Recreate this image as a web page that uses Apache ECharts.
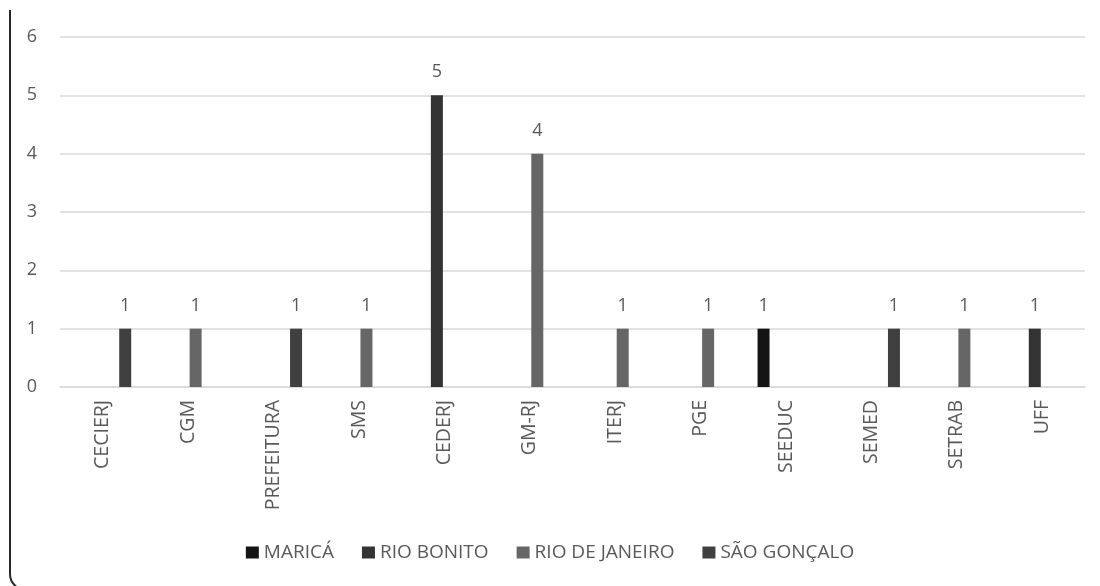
<!DOCTYPE html>
<html>
<head>
<meta charset="utf-8">
<script src="https://cdn.jsdelivr.net/npm/echarts@6/dist/echarts.min.js"></script>
<style>html,body{margin:0;padding:0;background:#fff}#c{width:1100px;height:586px}</style>
</head>
<body>
<div id="c"></div>
<script>
const categories = ['CECIERJ','CGM','PREFEITURA','SMS','CEDERJ','GM-RJ','ITERJ','PGE','SEEDUC','SEMED','SETRAB','UFF'];
const seriesNames = ['MARICÁ','RIO BONITO','RIO DE JANEIRO','SÃO GONÇALO'];
const marica      = [0,0,0,0,0,0,0,0,1,0,0,0];
const rioBonito   = [0,0,0,0,5,0,0,0,0,0,0,1];
const rioJaneiro  = [0,1,0,1,0,4,1,1,0,0,1,0];
const saoGoncalo  = [1,0,1,0,0,0,0,0,0,1,0,0];
const yTicks = [0,1,2,3,4,5,6];
const colors = ['#141414','#333333','#666666','#404040'];

const chart = echarts.init(document.getElementById('c'));
const font = '"Open Sans", "Noto Sans", sans-serif';
const mk = (name, data, color) => ({
  name, type: 'bar', data, barWidth: 12, barGap: '25%',
  itemStyle: { color },
  label: { show: true, position: 'top', distance: 14, color: '#595959', fontSize: 18, fontFamily: font,
    formatter: p => p.value === 0 ? '' : String(p.value) }
});
chart.setOption({
  animation: false,
  textStyle: { fontFamily: font },
  grid: { left: 60, right: 15, top: 37, bottom: 199 },
  legend: {
    bottom: 19, left: 'center', itemWidth: 13, itemHeight: 12, itemGap: 28,
    icon: 'rect',
    textStyle: { color: '#595959', fontSize: 19, fontFamily: font },
    data: seriesNames
  },
  xAxis: {
    type: 'category', data: categories,
    axisLine: { lineStyle: { color: '#d9d9d9', width: 1.5 } },
    axisTick: { show: false },
    axisLabel: { rotate: 90, color: '#595959', fontSize: 19.5, margin: 13, fontFamily: font }
  },
  yAxis: {
    type: 'value', min: yTicks[0], max: yTicks[yTicks.length-1], interval: 1,
    axisLine: { show: false }, axisTick: { show: false },
    axisLabel: { color: '#595959', fontSize: 18, margin: 23, fontFamily: font },
    splitLine: { lineStyle: { color: '#d9d9d9', width: 1.5 } }
  },
  series: [
    mk(seriesNames[0], marica, colors[0]),
    mk(seriesNames[1], rioBonito, colors[1]),
    mk(seriesNames[2], rioJaneiro, colors[2]),
    mk(seriesNames[3], saoGoncalo, colors[3])
  ],
  graphic: [
    { type: 'line', silent: true, shape: { x1: 10, y1: 10, x2: 10, y2: 574 },
      style: { stroke: '#262626', lineWidth: 2 } },
    { type: 'arc', silent: true, shape: { cx: 26, cy: 574, r: 16, startAngle: Math.PI / 2, endAngle: Math.PI, clockwise: true },
      style: { stroke: '#262626', lineWidth: 2, fill: null } }
  ]
});
</script>
</body>
</html>
